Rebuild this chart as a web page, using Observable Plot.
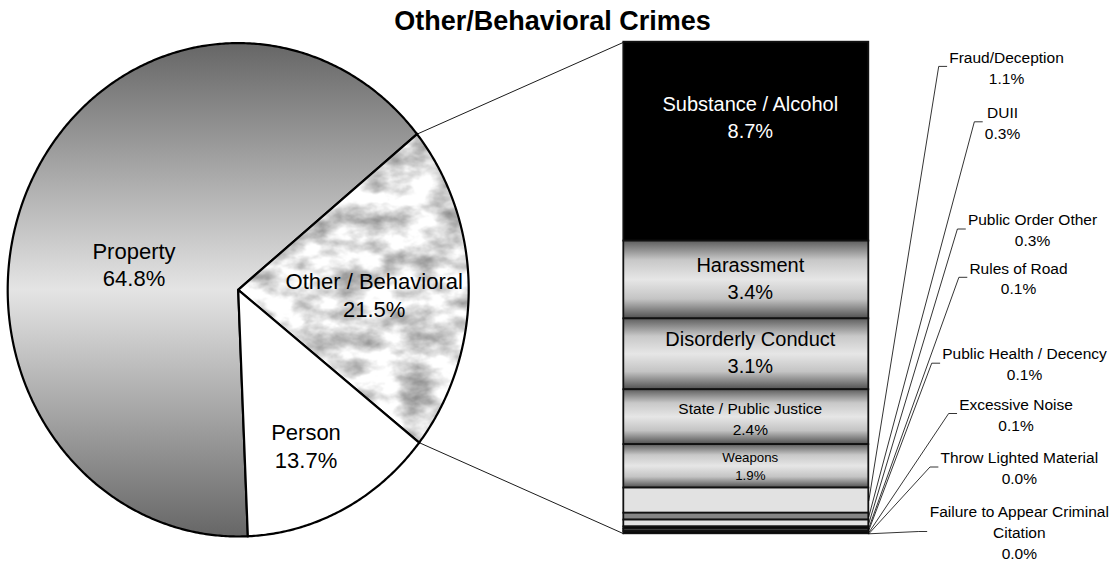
<!DOCTYPE html>
<html><head><meta charset="utf-8">
<script src="https://cdn.jsdelivr.net/npm/d3@7"></script>
<script src="https://cdn.jsdelivr.net/npm/@observablehq/plot@0.6"></script>
<style>
body{margin:0;background:#fff;}
#wrap{position:relative;width:1111px;height:562px;overflow:hidden;font-family:"Liberation Sans",Arial,sans-serif;}
#chart{position:absolute;left:0;top:30px;}
#title{position:absolute;left:0;top:8px;width:1105px;text-align:center;font:bold 27px/27px "Liberation Sans",Arial,sans-serif;color:#000;}
</style></head><body>
<div id="wrap"><div id="chart"></div><div id="title"></div></div>
<script>
// ---------- data ----------
const titleText = "Other/Behavioral Crimes";
const pieCategories = ["Property", "Other / Behavioral", "Person"];
const pieValues = [64.8, 21.5, 13.7];
const subCategories = ["Substance / Alcohol", "Harassment", "Disorderly Conduct", "State / Public Justice", "Weapons",
  "Fraud/Deception", "DUII", "Public Order Other", "Rules of Road", "Public Health / Decency",
  "Excessive Noise", "Throw Lighted Material", "Failure to Appear Criminal\nCitation"];
const subValues = [8.7, 3.4, 3.1, 2.4, 1.9, 1.1, 0.3, 0.3, 0.1, 0.1, 0.1, 0.0, 0.0];
const explodedIndex = 1; // "Other / Behavioral" is broken down in the bar

// ---------- styles / layout ----------
const pieFills = ["url(#propGrad)", "url(#marble)", "#ffffff"];
const barFills = ["#000000", "url(#cyl)", "url(#cyl)", "url(#cyl)", "url(#cyl)", "#e2e2e2", "#858585", "#e2e2e2", "#000000", "#858585", "#000000", "#000000", "#000000"];
const barLabelSizes = [20, 20, 20, 15.5, 13.3];
const barLabelColors = ["#ffffff", "#000", "#000", "#000", "#000"];
const barLabelShiftPx = [-26, -3, -3, 1, -1];
const pieLabelPos = [[133.5, 263.3], [373.7, 293.7], [305.5, 444.5]];
const rightLabelPos = [[1006, 65.9], [1002, 121.3], [1032, 228.5], [1018, 276.8], [1024, 362.7], [1015.5, 413], [1018.8, 466.5], [1018.8, 531]];
const W = 1111, SVG_TOP = 30, SVG_H = 532;
const BAR_TOP = 41.7, BAR_BOTTOM = 533.3, BAR_X1 = 623.3, BAR_X2 = 868.3;
const PIE_CX = 237.7, PIE_CY = 289.3, PIE_RX = 230.5, PIE_RY = 246.7, START_ANGLE = 177.6;

document.getElementById("title").textContent = titleText;

const total = d3.sum(subValues);
const pxPerUnit = (BAR_BOTTOM - BAR_TOP) / total;
const yOf = py => (BAR_BOTTOM - py) / pxPerUnit;
const cy = yOf(PIE_CY), ry = PIE_RY / pxPerUnit;
const pt = deg => {
  const a = deg * Math.PI / 180;
  return {x: PIE_CX + PIE_RX * Math.sin(a), y: cy + ry * Math.cos(a)};
};

// pie slices
const pieTotal = d3.sum(pieValues);
let acc = 0;
const slices = pieValues.map((v, i) => {
  const a0 = START_ANGLE + 360 * acc / pieTotal;
  acc += v;
  const a1 = START_ANGLE + 360 * acc / pieTotal;
  const pts = [{x: PIE_CX, y: cy}];
  const n = Math.max(2, Math.ceil((a1 - a0) / 0.5));
  for (let k = 0; k <= n; k++) pts.push(pt(a0 + (a1 - a0) * k / n));
  pts.push({x: PIE_CX, y: cy});
  return {i, a0, a1, pts};
});

// bar segments (stacked from the top)
let stackTop = total;
const segs = subValues.map((v, i) => {
  const y2 = stackTop, y1 = stackTop - v;
  stackTop = y1;
  return {name: subCategories[i], value: v, y1, y2, mid: (y1 + y2) / 2};
});

const fmt = v => v.toFixed(1) + "%";
const ctx = document.createElement("canvas").getContext("2d");
ctx.font = '15.5px "Liberation Sans"';
const textW = s => d3.max(s.split("\n"), l => ctx.measureText(l).width);

const marks = [];
slices.forEach(s => marks.push(Plot.line(s.pts, {x: "x", y: "y", fill: pieFills[s.i], stroke: "#000", strokeWidth: 2.2, strokeLinejoin: "miter", strokeMiterlimit: 10})));
// connectors from exploded slice to bar
const ex = slices[explodedIndex];
marks.push(Plot.link([
  {x1: pt(ex.a0).x, y1: pt(ex.a0).y, x2: BAR_X1, y2: total},
  {x1: pt(ex.a1).x, y1: pt(ex.a1).y, x2: BAR_X1, y2: 0}
], {x1: "x1", y1: "y1", x2: "x2", y2: "y2", stroke: "#000", strokeWidth: 0.9}));
// bar
segs.forEach((d, i) => marks.push(Plot.rect([d], {x1: () => BAR_X1, x2: () => BAR_X2, y1: "y1", y2: "y2", fill: barFills[i], stroke: "#111", strokeWidth: 1.8})));
// leader lines + outside labels
const leaders = [];
const outside = [];
segs.forEach((d, i) => {
  if (i < barLabelSizes.length) return;
  const [lx, ly] = rightLabelPos[i - barLabelSizes.length];
  const text = d.name + "\n" + fmt(d.value);
  const left = lx - textW(text) / 2 - 2.5;
  leaders.push({k: i, x: BAR_X2, y: d.mid}, {k: i, x: left - 8, y: yOf(ly)}, {k: i, x: left, y: yOf(ly)});
  outside.push({x: lx, y: yOf(ly), text});
});
marks.push(Plot.line(leaders, {x: "x", y: "y", z: "k", stroke: "#000", strokeWidth: 0.8, strokeLinejoin: "miter"}));
marks.push(Plot.text(outside, {x: "x", y: "y", text: "text", fontSize: 15.5, lineHeight: 1.35, lineAnchor: "middle", fill: "#000"}));
// bar inside labels
segs.forEach((d, i) => {
  if (i >= barLabelSizes.length) return;
  marks.push(Plot.text([d], {x: () => (BAR_X1 + BAR_X2) / 2 + 4, y: d => d.mid - barLabelShiftPx[i] / pxPerUnit,
    text: d => d.name + "\n" + fmt(d.value), fontSize: barLabelSizes[i], lineHeight: 1.35, lineAnchor: "middle", fill: barLabelColors[i]}));
});
// pie labels
marks.push(Plot.text(pieCategories.map((c, i) => ({x: pieLabelPos[i][0], y: yOf(pieLabelPos[i][1]), text: c + "\n" + fmt(pieValues[i])})),
  {x: "x", y: "y", text: "text", fontSize: 22, lineHeight: 1.25, lineAnchor: "middle", fill: "#000"}));

const chart = Plot.plot({
  width: W, height: SVG_H,
  marginLeft: 0, marginRight: 0,
  marginTop: BAR_TOP - SVG_TOP, marginBottom: SVG_TOP + SVG_H - BAR_BOTTOM,
  x: {domain: [0, W], axis: null},
  y: {domain: [0, total], axis: null},
  style: {fontFamily: '"Liberation Sans", Arial, sans-serif', background: "transparent", overflow: "visible"},
  marks
});
const svg = chart.tagName.toLowerCase() === "svg" ? chart : chart.querySelector("svg");
const NS = "http://www.w3.org/2000/svg";
const defs = document.createElementNS(NS, "defs");
defs.innerHTML = `
<linearGradient id="propGrad" x1="0" y1="0" x2="0" y2="1">
  <stop offset="0" stop-color="#666666"/><stop offset="0.5" stop-color="#e4e4e4"/><stop offset="1" stop-color="#666666"/>
</linearGradient>
<linearGradient id="cyl" x1="0" y1="0" x2="0" y2="1">
  <stop offset="0" stop-color="#5e5e5e"/><stop offset="0.25" stop-color="#c8c8c8"/><stop offset="0.5" stop-color="#e6e6e6"/>
  <stop offset="0.75" stop-color="#c4c4c4"/><stop offset="1" stop-color="#505050"/>
</linearGradient>
<filter id="mf" x="0" y="0" width="100%" height="100%" color-interpolation-filters="sRGB">
  <feTurbulence type="fractalNoise" baseFrequency="0.03 0.05" numOctaves="5" seed="11"/>
  <feColorMatrix type="matrix" values="0.85 0 0 0 0.45  0.85 0 0 0 0.45  0.85 0 0 0 0.45  0 0 0 0 1"/>
</filter>
<pattern id="marble" patternUnits="userSpaceOnUse" x="0" y="0" width="${W}" height="${SVG_H}">
  <rect x="0" y="0" width="${W}" height="${SVG_H}" fill="#ddd" filter="url(#mf)"/>
</pattern>`;
svg.insertBefore(defs, svg.firstChild);
document.getElementById("chart").appendChild(chart);
</script>
</body></html>
